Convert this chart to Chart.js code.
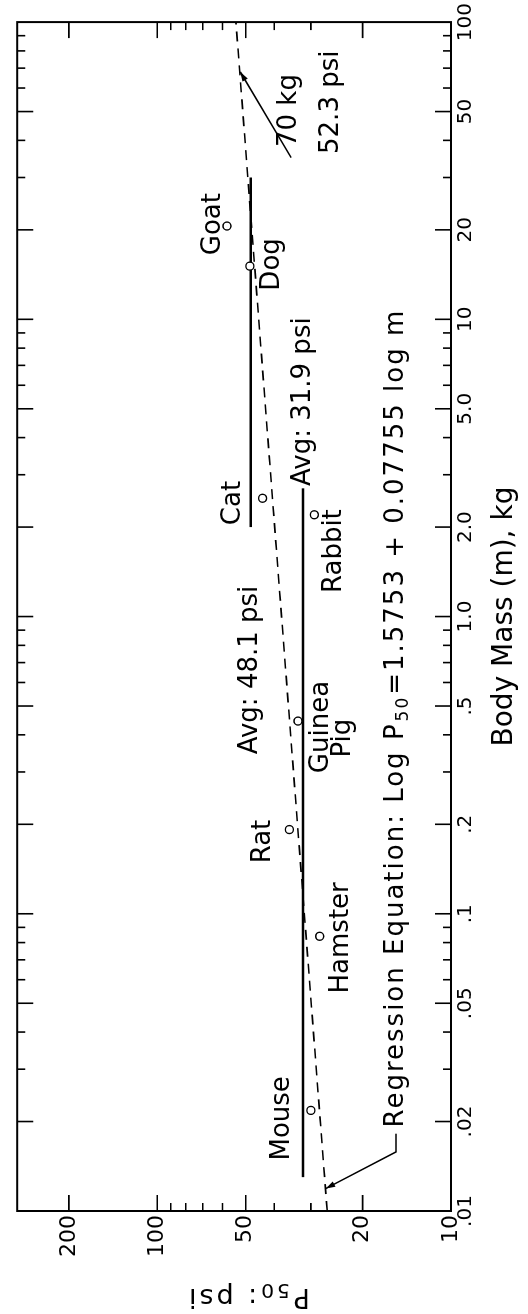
<!DOCTYPE html>
<html>
<head>
<meta charset="utf-8">
<script src="https://cdn.jsdelivr.net/npm/chart.js@4/dist/chart.umd.min.js"></script>
<style>
  html, body { margin: 0; padding: 0; background: #fff; }
  #page { position: relative; width: 528px; height: 1314px; overflow: hidden; background: #fff; }
  /* the figure is printed turned a quarter turn to the left */
  #turn { position: absolute; left: 0; top: 0; width: 1314px; height: 528px;
          transform-origin: 0 0; transform: translate(0, 1314px) rotate(-90deg); }
  canvas { display: block; }
</style>
</head>
<body>
<div id="page"><div id="turn"><canvas id="p50Chart" width="1314" height="528"></canvas></div></div>
<script>
// animals (open circles)
const animals    = ['Mouse', 'Hamster', 'Rat', 'Guinea Pig', 'Rabbit', 'Cat', 'Dog', 'Goat'];
const animalMass = [0.0218, 0.084, 0.192, 0.445, 2.2, 2.5, 15.1, 20.6];
const animalP50  = [30.0, 28.0, 35.5, 33.2, 29.2, 43.8, 48.4, 57.9];

// regression line (dashed)
const regMass = [0.01, 100];
const regP50  = [26.4, 54.0];

// group averages (solid)
const smallAvgMass = [0.013, 2.7];
const smallAvgP50  = [31.9, 31.9];
const largeAvgMass = [2.0, 30];
const largeAvgP50  = [48.1, 48.1];

// leader lines
const leader70Mass  = [68, 35];
const leader70P50   = [52.2, 35];
const leaderRegMass = [0.0119, 0.0158, 0.0182];
const leaderRegP50  = [26.7, 15.4, 15.4];

// axis ticks
const massLabelValues = [0.01, 0.02, 0.05, 0.1, 0.2, 0.5, 1, 2, 5, 10, 20, 50, 100];
const massLabelText   = ['.01', '.02', '.05', '.1', '.2', '.5', '1.0', '2.0', '5.0', '10', '20', '50', '100'];
const massMinorValues = [0.03, 0.04, 0.06, 0.07, 0.08, 0.09, 0.3, 0.4, 0.6, 0.7, 0.8, 0.9,
                         3, 4, 6, 7, 8, 9, 30, 40, 60, 70, 80, 90];
const p50LabelValues = [10, 20, 50, 100, 200];
const p50LabelText   = ['10', '20', '50', '100', '200'];
const p50MinorValues = [30, 40, 60, 70, 80, 90, 300];

// text notes: text, mass, P50, alignment
const notes = [
    ['Mouse', 0.0205, 37.5, 'center'],
    ['Hamster', 0.083, 23.7, 'center'],
    ['Rat', 0.175, 43.6, 'center'],
    ['Guinea', 0.425, 27.6, 'center'],
    ['Pig', 0.39, 23.2, 'center'],
    ['Cat', 2.41, 55.1, 'center'],
    ['Avg: 48.1 psi', 1.27, 48.1, 'right'],
    ['Avg: 31.9 psi', 2.75, 31.9, 'left'],
    ['Rabbit', 1.66, 25.0, 'center'],
    ['Dog', 15.3, 40.6, 'center'],
    ['Goat', 20.9, 64.5, 'center'],
    ['70 kg', 38, 35.6, 'left'],
    ['52.3 psi', 36, 25.6, 'left']
];
const regText = ['Regression Equation: Log P', '50', '=1.5753 + 0.07755 log m'];
const regTextMass = 0.0191;
const regTextP50 = 15.4;
const yTitle = ['P', '50', ': psi'];

const FONT = '"DejaVu Sans", "Liberation Sans", sans-serif';

function findLabel(values, texts, v) {
    for (let i = 0; i < values.length; i++) {
        if (Math.abs(values[i] - v) / values[i] < 1e-6) return texts[i];
    }
    return '';
}

function toPoints(xs, ys) {
    return xs.map((v, i) => ({ x: v, y: ys[i] }));
}

function polyline(ctx, chart, xs, ys) {
    const { x, y } = chart.scales;
    ctx.beginPath();
    xs.forEach((v, i) => {
        const px = x.getPixelForValue(v), py = y.getPixelForValue(ys[i]);
        if (i === 0) ctx.moveTo(px, py); else ctx.lineTo(px, py);
    });
    ctx.stroke();
}

function arrowHead(ctx, chart, fromM, fromP, toM, toP) {
    const { x, y } = chart.scales;
    const x1 = x.getPixelForValue(fromM), y1 = y.getPixelForValue(fromP);
    const x2 = x.getPixelForValue(toM), y2 = y.getPixelForValue(toP);
    const ang = Math.atan2(y2 - y1, x2 - x1);
    ctx.beginPath();
    ctx.moveTo(x2, y2);
    ctx.lineTo(x2 - 10 * Math.cos(ang - 0.3), y2 - 10 * Math.sin(ang - 0.3));
    ctx.lineTo(x2 - 10 * Math.cos(ang + 0.3), y2 - 10 * Math.sin(ang + 0.3));
    ctx.closePath();
    ctx.fill();
}

// text with a lowered, smaller middle piece (P50)
function subText(ctx, parts, x, y, size, subSize, drop) {
    ctx.font = size + 'px ' + FONT;
    ctx.fillText(parts[0], x, y);
    x += ctx.measureText(parts[0]).width;
    ctx.font = subSize + 'px ' + FONT;
    ctx.fillText(parts[1], x + 1, y + drop);
    x += ctx.measureText(parts[1]).width + 2;
    ctx.font = size + 'px ' + FONT;
    ctx.fillText(parts[2], x, y);
    return x + ctx.measureText(parts[2]).width;
}

const frameAndNotes = {
    id: 'frameAndNotes',
    afterDraw(chart) {
        const { ctx, chartArea: a, scales: { x, y } } = chart;
        ctx.save();
        ctx.strokeStyle = '#000';
        ctx.fillStyle = '#000';

        // box
        ctx.lineWidth = 2;
        ctx.strokeRect(a.left, a.top, a.right - a.left, a.bottom - a.top);

        // ticks pointing in, on all four sides
        ctx.lineWidth = 1.6;
        ctx.beginPath();
        massLabelValues.concat(massMinorValues).forEach(v => {
            if (v <= 0.01 || v >= 100) return;
            const px = x.getPixelForValue(v);
            const len = findLabel(massLabelValues, massLabelText, v) ? 16 : 8;
            ctx.moveTo(px, a.bottom); ctx.lineTo(px, a.bottom - len);
            ctx.moveTo(px, a.top); ctx.lineTo(px, a.top + len);
        });
        p50LabelValues.concat(p50MinorValues).forEach(v => {
            if (v <= 10 || v >= 300) return;
            const py = y.getPixelForValue(v);
            const len = findLabel(p50LabelValues, p50LabelText, v) ? 16 : 8;
            ctx.moveTo(a.left, py); ctx.lineTo(a.left + len, py);
            ctx.moveTo(a.right, py); ctx.lineTo(a.right - len, py);
        });
        ctx.stroke();

        // leader lines
        ctx.lineWidth = 1.5;
        polyline(ctx, chart, leader70Mass, leader70P50);
        arrowHead(ctx, chart, leader70Mass[1], leader70P50[1], leader70Mass[0], leader70P50[0]);
        polyline(ctx, chart, leaderRegMass, leaderRegP50);
        arrowHead(ctx, chart, leaderRegMass[1], leaderRegP50[1], leaderRegMass[0], leaderRegP50[0]);

        // notes
        ctx.font = '26px ' + FONT;
        ctx.textBaseline = 'middle';
        notes.forEach(n => {
            ctx.textAlign = n[3];
            ctx.fillText(n[0], x.getPixelForValue(n[1]), y.getPixelForValue(n[2]));
        });

        // regression equation
        ctx.textAlign = 'left';
        ctx.letterSpacing = '2px';
        subText(ctx, regText, x.getPixelForValue(regTextMass), y.getPixelForValue(regTextP50), 26, 17, 8);

        // y axis title, read upward, centred on 248
        ctx.save();
        ctx.translate(21, 248);
        ctx.rotate(-Math.PI / 2);
        ctx.letterSpacing = '3px';
        ctx.globalAlpha = 0;
        const w = subText(ctx, yTitle, 0, 0, 27, 20, 7);
        ctx.globalAlpha = 1;
        subText(ctx, yTitle, -w / 2, -3, 27, 20, 7);
        ctx.restore();

        ctx.restore();
    }
};

new Chart(document.getElementById('p50Chart'), {
    type: 'scatter',
    data: {
        datasets: [
            {
                label: 'Animals',
                data: toPoints(animalMass, animalP50),
                pointRadius: 4,
                pointBackgroundColor: '#fff',
                pointBorderColor: '#000',
                pointBorderWidth: 1.4,
                order: 0
            },
            {
                label: 'Regression',
                data: toPoints(regMass, regP50),
                showLine: true,
                borderColor: '#000',
                borderWidth: 1.6,
                borderDash: [10, 7],
                pointRadius: 0,
                order: 3
            },
            {
                label: 'Avg small',
                data: toPoints(smallAvgMass, smallAvgP50),
                showLine: true,
                borderColor: '#000',
                borderWidth: 2.5,
                pointRadius: 0,
                order: 1
            },
            {
                label: 'Avg large',
                data: toPoints(largeAvgMass, largeAvgP50),
                showLine: true,
                borderColor: '#000',
                borderWidth: 2.5,
                pointRadius: 0,
                order: 2
            }
        ]
    },
    options: {
        responsive: false,
        animation: false,
        devicePixelRatio: 1,
        layout: { padding: { top: 16, right: 17, bottom: 6, left: 0 } },
        plugins: {
            legend: { display: false },
            tooltip: { enabled: false }
        },
        scales: {
            x: {
                type: 'logarithmic',
                min: 0.01,
                max: 100,
                grid: { display: false, drawTicks: false },
                border: { display: false },
                afterBuildTicks: s => {
                    s.ticks = massLabelValues.map(v => ({ value: v }));
                },
                afterFit: s => { s.height = 528 - 6 - 451; },
                ticks: {
                    autoSkip: false,
                    maxRotation: 0,
                    padding: 3,
                    color: '#000',
                    font: { family: FONT, size: 20 },
                    callback: v => findLabel(massLabelValues, massLabelText, v)
                },
                title: {
                    display: true,
                    text: 'Body Mass (m), kg',
                    color: '#000',
                    font: { family: FONT, size: 28 },
                    padding: { top: 0, bottom: 0 }
                }
            },
            y: {
                type: 'logarithmic',
                min: 10,
                max: 300,
                grid: { display: false, drawTicks: false },
                border: { display: false },
                afterBuildTicks: s => {
                    s.ticks = p50LabelValues.map(v => ({ value: v }));
                },
                afterFit: s => { s.width = 103; },
                ticks: {
                    autoSkip: false,
                    padding: 4,
                    color: '#000',
                    font: { family: FONT, size: 22 },
                    callback: v => findLabel(p50LabelValues, p50LabelText, v)
                }
            }
        }
    },
    plugins: [frameAndNotes]
});
</script>
</body>
</html>
